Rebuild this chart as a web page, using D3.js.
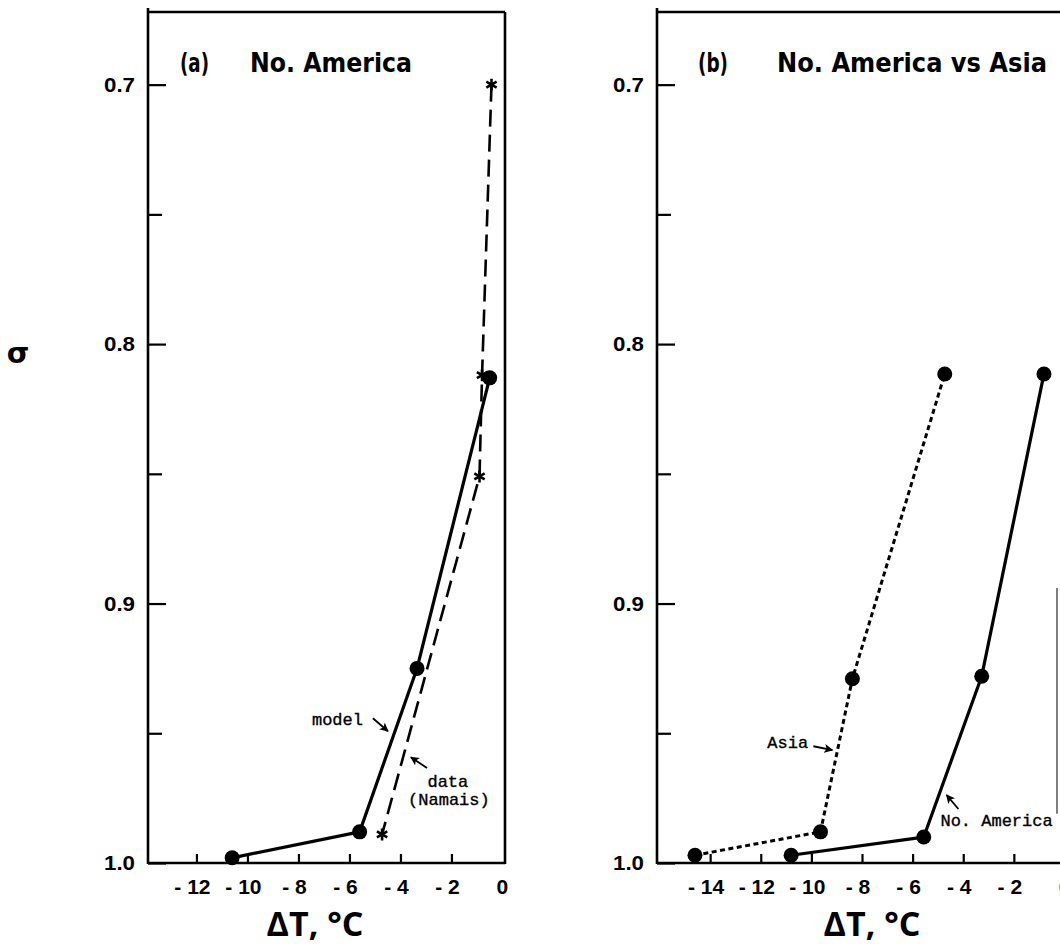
<!DOCTYPE html>
<html>
<head>
<meta charset="utf-8">
<script src="https://cdn.jsdelivr.net/npm/d3@7"></script>
<style>
  html, body { margin: 0; padding: 0; background: #fff; }
  svg { display: block; }
</style>
</head>
<body>
<svg id="chart" width="1060" height="951"></svg>
<script>
// ---------------- data ----------------
// Panel (a): No. America
const modelA = [
  { t: -10.6, s: 0.998 },
  { t: -5.6,  s: 0.988 },
  { t: -3.35, s: 0.925 },
  { t: -0.5,  s: 0.813 }
];
const dataNamais = [
  { t: -0.43, s: 0.700, mark: true },
  { t: -0.8,  s: 0.812, mark: true },
  { t: -0.9,  s: 0.851, mark: true },
  { t: -4.72, s: 0.989, mark: true }
];
// Panel (b): No. America vs Asia
const naB = [
  { t: -10.8, s: 0.997 },
  { t: -5.56, s: 0.990 },
  { t: -3.27, s: 0.928 },
  { t: -0.81, s: 0.8115 }
];
const asiaB = [
  { t: -14.6, s: 0.997 },
  { t: -9.64, s: 0.988 },
  { t: -8.38, s: 0.929 },
  { t: -4.73, s: 0.8115 }
];
const yMajorTicks = [0.7, 0.8, 0.9, 1.0];
const yMinorTicks = [0.75, 0.85, 0.95];
const xTicksA = [-12, -10, -8, -6, -4, -2, 0];
const xTicksB = [-14, -12, -10, -8, -6, -4, -2, 0];
const titleA = ["(a)", "No. America"];
const titleB = ["(b)", "No. America vs Asia"];
const xTitle = "ΔT, °C";
const yTitle = "σ";

// ---------------- layout ----------------
const svg = d3.select("#chart");
const yTop = 12, yBot = 863;
const y = d3.scaleLinear().domain([0.672, 1.0]).range([yTop, yBot]);
const xA = d3.scaleLinear().domain([-13.9, 0.1]).range([148, 505]);
const xB = d3.scaleLinear().domain([-16.1, 0.1]).range([657, 1067]);

const defs = svg.append("defs");
defs.append("marker").attr("id", "arrow")
  .attr("viewBox", "0 0 10 10").attr("refX", 9).attr("refY", 5)
  .attr("markerWidth", 9).attr("markerHeight", 9)
  .attr("markerUnits", "userSpaceOnUse")
  .attr("orient", "auto")
  .append("path").attr("d", "M0,0 L10,5 L0,10 L2.5,5 Z").attr("fill", "#000");

function panel(x, ticks, closedRight, title, titleX) {
  const g = svg.append("g");
  const x0 = x.range()[0], x1 = x.range()[1];
  // frame
  g.append("line").attr("x1", x0).attr("x2", x0).attr("y1", yTop - 4).attr("y2", yBot + 1)
    .attr("stroke", "#000").attr("stroke-width", 2.6);
  g.append("line").attr("x1", x0).attr("x2", x1).attr("y1", yTop).attr("y2", yTop)
    .attr("stroke", "#000").attr("stroke-width", 2.4);
  g.append("line").attr("x1", x0).attr("x2", x1).attr("y1", yBot).attr("y2", yBot)
    .attr("stroke", "#000").attr("stroke-width", 2.6);
  if (closedRight) {
    g.append("line").attr("x1", x1).attr("x2", x1).attr("y1", yTop).attr("y2", yBot + 1)
      .attr("stroke", "#000").attr("stroke-width", 2.6);
  }
  // y ticks (inward)
  const yAxis = d3.axisRight(y).tickValues(yMajorTicks).tickSize(18).tickFormat("");
  const ya = g.append("g").attr("transform", `translate(${x0},0)`).call(yAxis);
  ya.select(".domain").remove();
  ya.selectAll("line").attr("stroke-width", 2.2);
  const yAxisMinor = d3.axisRight(y).tickValues(yMinorTicks).tickSize(14).tickFormat("");
  const ym = g.append("g").attr("transform", `translate(${x0},0)`).call(yAxisMinor);
  ym.select(".domain").remove();
  ym.selectAll("line").attr("stroke-width", 2.2);
  // y labels
  g.selectAll(".ylab").data(yMajorTicks).enter().append("text")
    .attr("x", x0 - 13).attr("y", d => y(d) + 7)
    .attr("text-anchor", "end")
    .style("font-family", "'Liberation Sans', Arial, sans-serif")
    .style("font-weight", "bold").style("font-size", "21px")
    .attr("textLength", 31).attr("lengthAdjust", "spacingAndGlyphs")
    .text(d => d.toFixed(1));
  // x ticks (inward, upward)
  const xAxis = d3.axisTop(x).tickValues(ticks.filter(d => d !== 0)).tickSize(9).tickFormat("");
  const xa = g.append("g").attr("transform", `translate(0,${yBot})`).call(xAxis);
  xa.select(".domain").remove();
  xa.selectAll("line").attr("stroke-width", 2.2);
  g.selectAll(".xlab").data(ticks).enter().append("text")
    .attr("x", d => x(d) + (d < 0 ? -4 : 0)).attr("y", yBot + 31)
    .attr("text-anchor", "middle")
    .style("font-family", "'Liberation Sans', Arial, sans-serif")
    .style("font-weight", "bold").style("font-size", "21px")
    .attr("xml:space", "preserve")
    .text(d => d < 0 ? "- " + Math.abs(d) : String(d));
  // x title
  g.append("text").attr("x", titleX).attr("y", yBot + 73)
    .attr("text-anchor", "middle")
    .style("font-family", "'Open Sans', 'DejaVu Sans', sans-serif")
    .style("font-weight", "bold").style("font-size", "34px")
    .text(xTitle);
  // panel title
  const tf = g.append("g")
    .style("font-family", "'Liberation Sans Narrow', 'DejaVu Sans Condensed', sans-serif")
    .style("font-weight", "bold").style("font-size", "27px");
  tf.append("text").attr("x", title.pos[0]).attr("y", 72)
    .attr("textLength", title.len[0]).attr("lengthAdjust", "spacingAndGlyphs").text(title.text[0]);
  tf.append("text").attr("x", title.pos[1]).attr("y", 72)
    .attr("textLength", title.len[1]).attr("lengthAdjust", "spacingAndGlyphs").text(title.text[1]);
  return g;
}

const gA = panel(xA, xTicksA, true, { text: titleA, pos: [180, 250], len: [29, 162] }, 315);
const gB = panel(xB, xTicksB, false, { text: titleB, pos: [698, 777], len: [30, 270] }, 872);

// y title
svg.append("text").attr("x", 18).attr("y", 363).attr("text-anchor", "middle")
  .style("font-family", "'DejaVu Sans', sans-serif").style("font-weight", "bold")
  .style("font-size", "29px").text(yTitle);

// ---------------- series ----------------
function series(g, x, data, opts) {
  const line = d3.line().x(d => x(d.t)).y(d => y(d.s));
  g.append("path").datum(data).attr("d", line)
    .attr("fill", "none").attr("stroke", "#000")
    .attr("stroke-width", opts.width)
    .attr("stroke-dasharray", opts.dash || null)
    .attr("stroke-linejoin", "round");
  if (opts.marker === "circle") {
    g.selectAll(null).data(data).enter().append("circle")
      .attr("cx", d => x(d.t)).attr("cy", d => y(d.s)).attr("r", 7.5).attr("fill", "#000");
  } else if (opts.marker === "asterisk") {
    const sym = d3.symbol().type(d3.symbolAsterisk).size(100);
    g.selectAll(null).data(data.filter(d => d.mark)).enter().append("path")
      .attr("d", sym)
      .attr("transform", d => `translate(${x(d.t)},${y(d.s)})`)
      .attr("fill", "none").attr("stroke", "#000").attr("stroke-width", 2.6);
  }
}

series(gA, xA, dataNamais, { width: 2.6, dash: "17,8", marker: "asterisk" });
series(gA, xA, modelA, { width: 3.2, marker: "circle" });
series(gB, xB, asiaB, { width: 3, dash: "5,3.5", marker: "circle" });
series(gB, xB, naB, { width: 3.2, marker: "circle" });

// ---------------- annotations ----------------
const annotations = [
  { g: gA, x: xA, text: "model", t: -7.47, s: 0.9469, anchor: "start", arrow: [[-5.08, 0.9442], [-4.49, 0.9492]] },
  { g: gA, x: xA, text: "data", t: -2.14, s: 0.9708, anchor: "middle", arrow: [[-2.96, 0.9634], [-3.59, 0.9592]] },
  { g: gA, x: xA, text: "(Namais)", t: -2.1, s: 0.9777, anchor: "middle", arrow: null },
  { g: gB, x: xB, text: "Asia", t: -11.74, s: 0.9557, anchor: "start", arrow: [[-9.92, 0.955], [-9.17, 0.9565]] },
  { g: gB, x: xB, text: "No. America", t: -4.9, s: 0.9858, anchor: "start", arrow: [[-4.19, 0.9792], [-4.66, 0.9738]] }
];
annotations.forEach(a => {
  a.g.append("text").attr("x", a.x(a.t)).attr("y", y(a.s))
    .attr("text-anchor", a.anchor)
    .style("font-family", "'Liberation Mono', 'DejaVu Sans Mono', monospace")
    .style("font-size", "17px")
    .attr("stroke", "#000").attr("stroke-width", 0.35)
    .text(a.text);
  if (a.arrow) {
    a.g.append("line")
      .attr("x1", a.x(a.arrow[0][0])).attr("y1", y(a.arrow[0][1]))
      .attr("x2", a.x(a.arrow[1][0])).attr("y2", y(a.arrow[1][1]))
      .attr("stroke", "#000").attr("stroke-width", 1.8)
      .attr("marker-end", "url(#arrow)");
  }
});

// clipped element at the right edge of panel (b)
gB.append("line").attr("x1", 1057).attr("x2", 1057).attr("y1", y(0.894)).attr("y2", y(0.981))
  .attr("stroke", "#555").attr("stroke-width", 1.5);
</script>
</body>
</html>
